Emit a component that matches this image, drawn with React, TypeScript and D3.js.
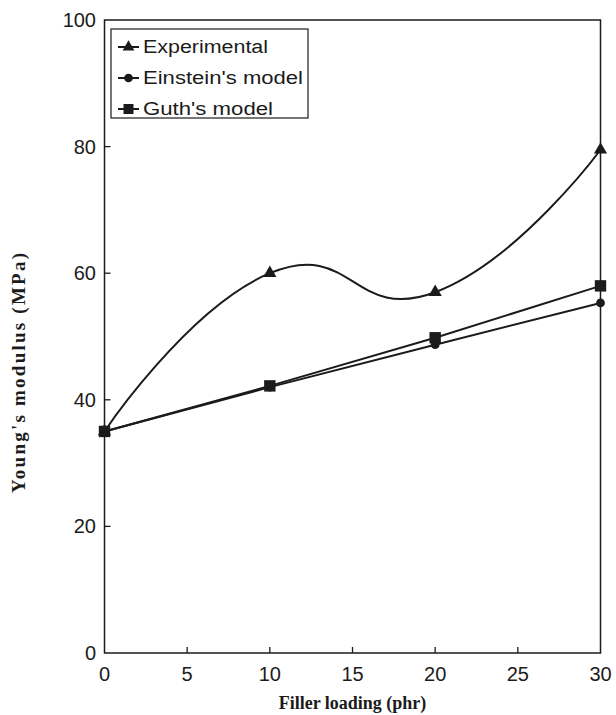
import React from 'react';
import * as d3 from 'd3';

const xValues = [0, 10, 20, 30];
const experimental = [35, 60, 57, 79.5];
const einstein = [35, 42, 48.7, 55.3];
const guth = [35, 42.2, 49.8, 58];
const xTicks = [0, 5, 10, 15, 20, 25, 30];
const yTicks = [0, 20, 40, 60, 80, 100];
const legendLabels = ["Experimental", "Einstein's model", "Guth's model"];

const INK = '#1b1b1b';

export default function App() {
  const W = 616, H = 715;
  const left = 104.5, right = 600.5, top = 20, bottom = 653;
  const x = d3.scaleLinear().domain([0, 30]).range([left, right]);
  const y = d3.scaleLinear().domain([0, 100]).range([bottom, top]);

  const toPts = (vals: number[]) => xValues.map((v, i) => [v, vals[i]] as [number, number]);
  const smooth = d3.line<[number, number]>().x(d => x(d[0])).y(d => y(d[1])).curve(d3.curveCardinal.tension(-0.5));
  const straight = d3.line<[number, number]>().x(d => x(d[0])).y(d => y(d[1]));

  const tri = d3.symbol(d3.symbolTriangle, 75)()!;
  const triSmall = d3.symbol(d3.symbolTriangle, 60)()!;
  const circ = d3.symbol(d3.symbolCircle, 60)()!;
  const sq = d3.symbol(d3.symbolSquare, 130)()!;
  const sqSmall = d3.symbol(d3.symbolSquare, 100)()!;

  const sans = '"Liberation Sans", Arial, sans-serif';
  const serif = '"Liberation Serif", "Times New Roman", serif';

  const legendRows = [
    { label: legendLabels[0], sym: triSmall, len: 125 },
    { label: legendLabels[1], sym: circ, len: 160 },
    { label: legendLabels[2], sym: sqSmall, len: 130 },
  ];

  return (
    <svg width={W} height={H} style={{ position: 'absolute', left: 0, top: 0, background: '#fff' }}>
      <rect x={0} y={0} width={W} height={H} fill="#fff" />
      {/* frame */}
      <rect x={left} y={top} width={right - left} height={bottom - top} fill="none" stroke={INK} strokeWidth={1.5} />
      {/* y ticks */}
      {yTicks.map(t => (
        <g key={'y' + t}>
          {t > 0 && t < 100 && <line x1={left} x2={left + 6} y1={y(t)} y2={y(t)} stroke={INK} strokeWidth={1.3} />}
          <text x={96} y={y(t)} textAnchor="end" dominantBaseline="central" fontFamily={sans} fontSize={20} fill={INK}>{t}</text>
        </g>
      ))}
      {/* x ticks */}
      {xTicks.map(t => (
        <g key={'x' + t}>
          {t > 0 && t < 30 && <line x1={x(t)} x2={x(t)} y1={bottom} y2={bottom - 6} stroke={INK} strokeWidth={1.3} />}
          <text x={x(t)} y={674} textAnchor="middle" dominantBaseline="central" fontFamily={sans} fontSize={20} fill={INK}>{t}</text>
        </g>
      ))}
      {/* axis titles */}
      <text x={(left + right) / 2} y={709} textAnchor="middle" fontFamily={serif} fontWeight="bold" fontSize={18} fill={INK}>Filler loading (phr)</text>
      <text transform="translate(18,373) rotate(-90)" textAnchor="middle" dominantBaseline="central" fontFamily={serif} fontWeight="bold" fontSize={19} fill={INK} textLength={240} lengthAdjust="spacing">Young's modulus (MPa)</text>

      {/* series */}
      <path d={smooth(toPts(experimental))!} fill="none" stroke={INK} strokeWidth={2} />
      <path d={straight(toPts(einstein))!} fill="none" stroke={INK} strokeWidth={2} />
      <path d={straight(toPts(guth))!} fill="none" stroke={INK} strokeWidth={2} />
      {toPts(experimental).map((d, i) => (
        <path key={'e' + i} d={tri} transform={`translate(${x(d[0])},${y(d[1])})`} fill={INK} />
      ))}
      {toPts(einstein).map((d, i) => (
        <path key={'n' + i} d={circ} transform={`translate(${x(d[0])},${y(d[1])})`} fill={INK} />
      ))}
      {toPts(guth).map((d, i) => (
        <path key={'g' + i} d={sq} transform={`translate(${x(d[0])},${y(d[1])})`} fill={INK} />
      ))}

      {/* legend */}
      <rect x={111} y={29} width={197} height={89} fill="#fff" stroke={INK} strokeWidth={1.2} />
      {legendRows.map((r, i) => {
        const cy = 47 + i * 31;
        return (
          <g key={'l' + i}>
            <line x1={118} x2={139} y1={cy} y2={cy} stroke={INK} strokeWidth={2} />
            <path d={r.sym} transform={`translate(128.5,${cy})`} fill={INK} />
            <text x={143} y={cy} dominantBaseline="central" fontFamily={sans} fontSize={18} fill={INK} textLength={r.len} lengthAdjust="spacingAndGlyphs">{r.label}</text>
          </g>
        );
      })}
    </svg>
  );
}
